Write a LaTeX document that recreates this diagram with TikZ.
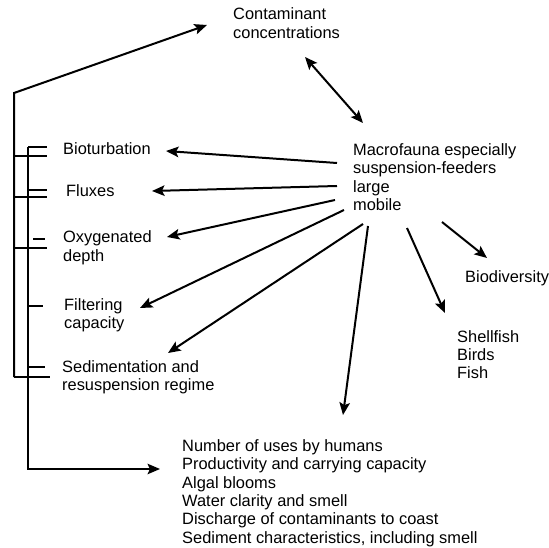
\documentclass[tikz,border=0pt]{standalone}
\usepackage{fontspec}
\setmainfont{Liberation Sans}
\usetikzlibrary{arrows.meta}

\begin{document}
\begin{tikzpicture}[x=1pt,y=-1pt]
            \useasboundingbox (0,0) rectangle (549,548);
            % base west is the baseline of the last line
            \begin{scope}[every node/.style={anchor=base west,inner sep=0pt,align=left,
                          font=\fontsize{16.4}{18.3}\selectfont}]
                \node (cont) at (233,38.3) {Contaminant\\concentrations};
                \node (mac) at (353,210.5) {Macrofauna especially\\suspension-feeders\\large\\mobile};
                \node (bio) at (63,155) {Bioturbation};
                \node (flux) at (66,197) {Fluxes};
                \node (oxy) at (63,261.3) {Oxygenated\\depth};
                \node (filt) at (64,328.3) {Filtering\\capacity};
                \node (sed) at (62,390.3) {Sedimentation and\\resuspension regime};
                \node (div) at (465,283) {Biodiversity};
                \node (fish) at (457,378.6) {Shellfish\\Birds\\Fish};
                \node (uses) at (182,543) {Number of uses by humans\\Productivity and carrying capacity\\Algal blooms\\Water clarity and smell\\Discharge of contaminants to coast\\Sediment characteristics, including smell};
            \end{scope}

            % spokes round the macrofauna and the arrow ends
            \coordinate (m1) at (337,163); \coordinate (t1) at (166,151);
            \coordinate (m2) at (337,186); \coordinate (t2) at (152,191);
            \coordinate (m3) at (335,200); \coordinate (t3) at (167,237);
            \coordinate (m4) at (344,210); \coordinate (t4) at (140,308);
            \coordinate (m5) at (363,224); \coordinate (t5) at (168,353);
            \coordinate (m6) at (368,226); \coordinate (t6) at (343,415);
            \coordinate (m7) at (407,228); \coordinate (t7) at (445,313);
            \coordinate (m8) at (442,222); \coordinate (t8) at (487,258);
            \coordinate (c1) at (305,57);  \coordinate (c2) at (363,123);

            \begin{scope}[>={Stealth[length=12.5pt,width=10.5pt,inset=2.5pt]},
                          every edge/.style={draw=black, line width=2pt}]
                \path[<->] (c1) edge (c2);
                \path[->] (m1) edge (t1);
                \path[->] (m2) edge (t2);
                \path[->] (m3) edge (t3);
                \path[->] (m4) edge (t4);
                \path[->] (m5) edge (t5);
                \path[->] (m6) edge (t6);
                \path[->] (m7) edge (t7);
                \path[->] (m8) edge (t8);
            \end{scope}

            % the two brackets on the left
            \coordinate (top) at (14,93);    \coordinate (ct) at (207,25);
            \coordinate (low) at (28,469);   \coordinate (ut) at (160,469);
            \begin{scope}[line width=2pt,>={Stealth[length=12.5pt,width=10.5pt,inset=2.5pt]}]
                \draw[->] (14,377) -- (top) -- (ct);
                \draw[->] (28,147) -- (low) -- (ut);
                \draw (28,147) -- (47,147);  \draw (14,156) -- (47,156);
                \draw (28,190) -- (47,190);  \draw (14,197) -- (47,197);
                \draw (33,239) -- (45,239);  \draw (14,248) -- (47,248);
                \draw (28,306) -- (43,306);
                \draw (28,367) -- (45,367);  \draw (14,377) -- (50,377);
            \end{scope}
\end{tikzpicture}
\end{document}
